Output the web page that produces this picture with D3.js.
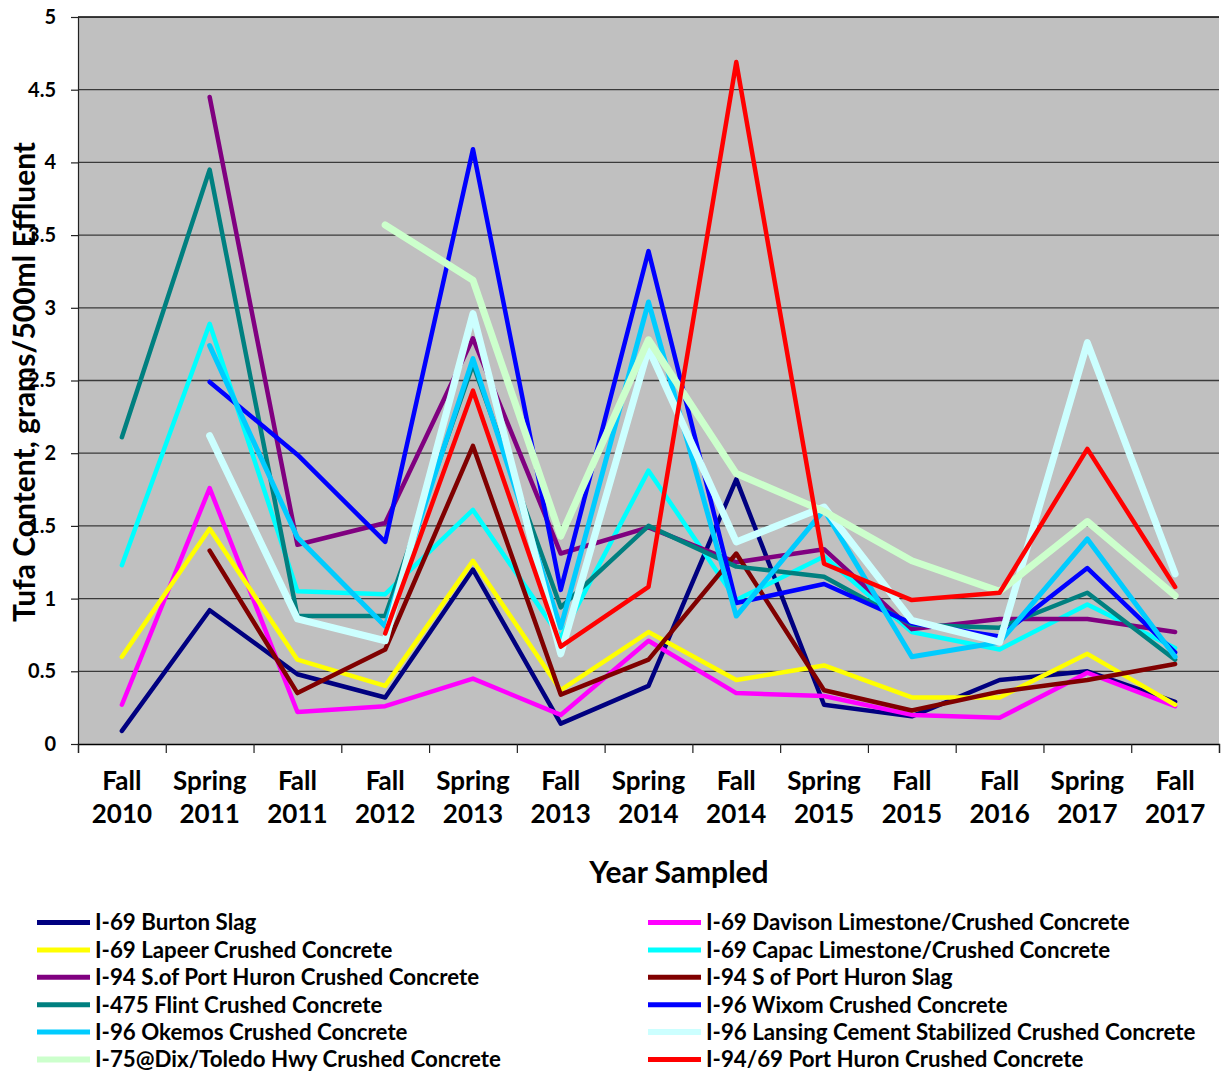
<!DOCTYPE html>
<html>
<head>
<meta charset="utf-8">
<script src="https://cdn.jsdelivr.net/npm/d3@7"></script>
<style>
  html, body { margin: 0; padding: 0; background: #fff; }
  svg { display: block; font-family: Lato, "Open Sans", sans-serif; font-weight: 700; }
</style>
</head>
<body>
<svg id="chart" width="1221" height="1072"></svg>
<script>
// ---------- data ----------
const categories = ["Fall 2010", "Spring 2011", "Fall 2011", "Fall 2012", "Spring 2013", "Fall 2013",
  "Spring 2014", "Fall 2014", "Spring 2015", "Fall 2015", "Fall 2016", "Spring 2017", "Fall 2017"];

const yTicks = [0, 0.5, 1, 1.5, 2, 2.5, 3, 3.5, 4, 4.5, 5];

const seriesNames = [
  "I-69 Burton Slag",
  "I-69 Davison Limestone/Crushed Concrete",
  "I-69 Lapeer Crushed Concrete",
  "I-69 Capac Limestone/Crushed Concrete",
  "I-94 S.of Port Huron Crushed Concrete",
  "I-94 S of Port Huron Slag",
  "I-475 Flint Crushed Concrete",
  "I-96 Wixom Crushed Concrete",
  "I-96 Okemos Crushed Concrete",
  "I-96 Lansing Cement Stabilized Crushed Concrete",
  "I-75@Dix/Toledo Hwy Crushed Concrete",
  "I-94/69 Port Huron Crushed Concrete"
];

const burtonSlag      = [0.09, 0.92, 0.48, 0.32, 1.20, 0.14, 0.40, 1.82, 0.27, 0.19, 0.44, 0.50, 0.29];
const davison         = [0.27, 1.76, 0.22, 0.26, 0.45, 0.20, 0.71, 0.35, 0.33, 0.20, 0.18, 0.49, 0.26];
const lapeer          = [0.60, 1.48, 0.58, 0.40, 1.26, 0.37, 0.77, 0.44, 0.54, 0.32, 0.32, 0.62, 0.27];
const capac           = [1.23, 2.89, 1.05, 1.03, 1.61, 0.73, 1.88, 0.99, 1.29, 0.77, 0.65, 0.96, 0.66];
const portHuronCC     = [null, 4.45, 1.37, 1.52, 2.79, 1.31, 1.49, 1.25, 1.34, 0.79, 0.86, 0.86, 0.77];
const portHuronSlag   = [null, 1.33, 0.35, 0.65, 2.05, 0.34, 0.58, 1.31, 0.37, 0.23, 0.36, 0.44, 0.55];
const flint           = [2.11, 3.95, 0.88, 0.88, 2.61, 0.94, 1.50, 1.22, 1.15, 0.82, 0.80, 1.04, 0.58];
const wixom           = [null, 2.49, 1.99, 1.39, 4.09, 1.06, 3.39, 0.97, 1.10, 0.83, 0.74, 1.21, 0.63];
const okemos          = [null, 2.74, 1.42, 0.81, 2.65, 0.80, 3.04, 0.88, 1.61, 0.60, 0.70, 1.41, 0.60];
const lansing         = [null, 2.12, 0.86, 0.71, 2.96, 0.62, 2.72, 1.39, 1.63, 0.85, 0.70, 2.76, 1.17];
const dixToledo       = [null, null, null, 3.57, 3.19, 1.43, 2.78, 1.86, 1.60, 1.26, 1.05, 1.53, 1.02];
const portHuron9469   = [null, null, null, 0.76, 2.43, 0.67, 1.08, 4.69, 1.24, 0.99, 1.04, 2.03, 1.08];

const seriesValues = [burtonSlag, davison, lapeer, capac, portHuronCC, portHuronSlag,
  flint, wixom, okemos, lansing, dixToledo, portHuron9469];

const seriesColors = ["#000080", "#FF00FF", "#FFFF00", "#00FFFF", "#800080", "#800000",
  "#008080", "#0000FF", "#00CCFF", "#CCFFFF", "#CCFFCC", "#FF0000"];
const seriesWidths = [4.5, 4.5, 4.5, 4.5, 4.5, 4.5, 4.5, 4.5, 5, 7, 7, 4.5];

// ---------- layout ----------
const svg = d3.select("#chart");
const plot = { left: 78, right: 1219, top: 17, bottom: 744 };

const x = d3.scaleBand().domain(categories).range([plot.left, plot.right]).paddingInner(0).paddingOuter(0);
const xEdges = d3.scaleLinear().domain([0, categories.length]).range([plot.left, plot.right]);
const y = d3.scaleLinear().domain([0, 5]).range([plot.bottom, plot.top]);

// plot background
svg.append("rect")
  .attr("x", plot.left).attr("y", plot.top)
  .attr("width", plot.right - plot.left).attr("height", plot.bottom - plot.top)
  .attr("fill", "#C0C0C0");

// gridlines
svg.append("g")
  .selectAll("line")
  .data(yTicks.filter(v => v > 0))
  .join("line")
  .attr("x1", plot.left).attr("x2", plot.right)
  .attr("y1", d => y(d)).attr("y2", d => y(d))
  .attr("stroke", d => d === 5 ? "#000" : "#3a3a3a")
  .attr("stroke-width", d => d === 5 ? 1.5 : 1.3);

// y axis
const yAxis = d3.axisLeft(y).tickValues(yTicks).tickSize(7).tickPadding(15).tickFormat(d => String(d));
const gy = svg.append("g").attr("transform", `translate(${plot.left},0)`).call(yAxis);
gy.select(".domain").attr("stroke", "#222").attr("stroke-width", 1.2);
gy.selectAll(".tick line").attr("stroke", "#222").attr("stroke-width", 1.2);
gy.selectAll(".tick text")
  .attr("font-family", "Lato, sans-serif").attr("font-weight", 700)
  .attr("font-size", 20).attr("fill", "#000");

// x axis: tick marks at band edges
const xAxisEdges = d3.axisBottom(xEdges).tickValues(d3.range(categories.length + 1)).tickSize(9).tickFormat("");
const gxe = svg.append("g").attr("transform", `translate(0,${plot.bottom})`).call(xAxisEdges);
gxe.select(".domain").attr("stroke", "#000").attr("stroke-width", 1.3);
gxe.selectAll(".tick line").attr("stroke", "#222").attr("stroke-width", 1.2);

// x axis labels (two lines)
const xAxis = d3.axisBottom(x).tickSize(0).tickPadding(0);
const gx = svg.append("g").attr("transform", `translate(0,${plot.bottom})`).call(xAxis);
gx.select(".domain").remove();
gx.selectAll(".tick text").each(function(d) {
  const parts = d.split(" ");
  const t = d3.select(this).text(null)
    .attr("font-family", "Lato, sans-serif").attr("font-weight", 700)
    .attr("font-size", 26).attr("fill", "#000").attr("y", 0).attr("dy", null);
  t.append("tspan").attr("x", 0).attr("y", 46).text(parts[0]);
  t.append("tspan").attr("x", 0).attr("y", 79).text(parts[1]);
});

// lines
const line = d3.line()
  .defined(d => d.v !== null)
  .x(d => x(d.c) + x.bandwidth() / 2)
  .y(d => y(d.v));

const gLines = svg.append("g");
seriesValues.forEach((vals, i) => {
  const pts = vals.map((v, j) => ({ c: categories[j], v }));
  gLines.append("path")
    .datum(pts)
    .attr("d", line)
    .attr("fill", "none")
    .attr("stroke", seriesColors[i])
    .attr("stroke-width", seriesWidths[i])
    .attr("stroke-linecap", "round")
    .attr("stroke-linejoin", "round");
});

// axis titles
svg.append("text")
  .attr("x", 679).attr("y", 883)
  .attr("text-anchor", "middle")
  .attr("font-size", 30).attr("fill", "#000")
  .text("Year Sampled");

svg.append("text")
  .attr("transform", "translate(35,382) rotate(-90)")
  .attr("text-anchor", "middle")
  .attr("font-size", 30).attr("fill", "#000")
  .text("Tufa Content, grams/500ml Effluent");

// legend (two columns, row-major)
const legendRowY = d3.scaleLinear().domain([0, 5]).range([922.5, 1059.5]);
const legendColX = [37, 648];
const gLeg = svg.append("g");
seriesNames.forEach((name, i) => {
  const col = i % 2, row = Math.floor(i / 2);
  const lx = legendColX[col], ly = legendRowY(row);
  gLeg.append("line")
    .attr("x1", lx).attr("x2", lx + 53)
    .attr("y1", ly).attr("y2", ly)
    .attr("stroke", seriesColors[i])
    .attr("stroke-width", seriesWidths[i] >= 7 ? 6 : 5);
  gLeg.append("text")
    .attr("x", lx + 58).attr("y", ly)
    .attr("dy", "0.35em")
    .attr("font-size", 22.3).attr("fill", "#000")
    .text(name);
});
</script>
</body>
</html>
